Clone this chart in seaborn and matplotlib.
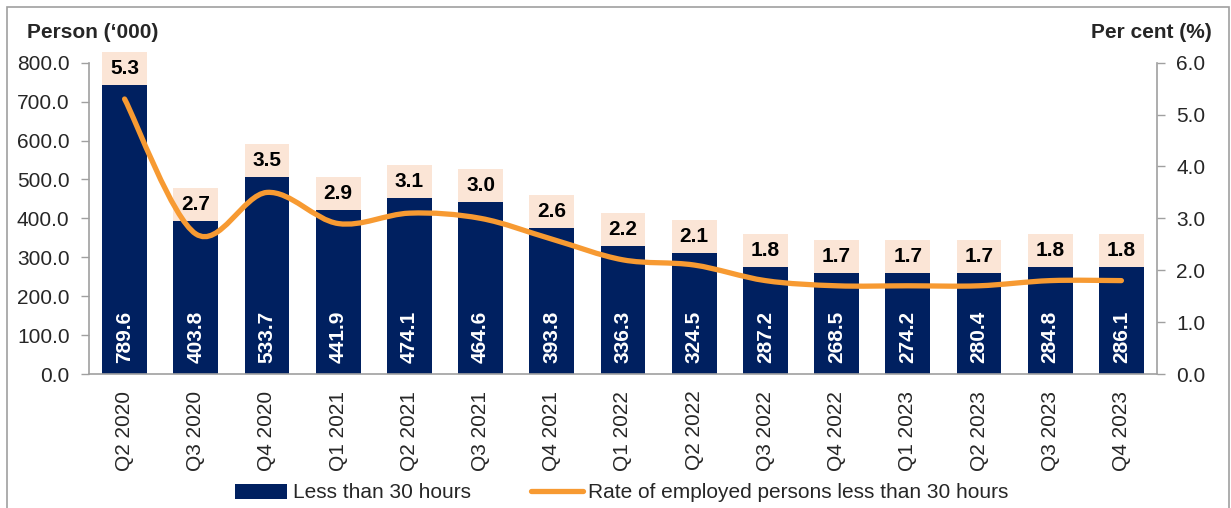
import numpy as np
import pandas as pd
import matplotlib
matplotlib.use("Agg")
import matplotlib.pyplot as plt
import seaborn as sns
from matplotlib.path import Path
from matplotlib.patches import PathPatch, Patch, Rectangle
from matplotlib.lines import Line2D

# ---------------- data ----------------
quarters = ['Q2 2020', 'Q3 2020', 'Q4 2020', 'Q1 2021', 'Q2 2021', 'Q3 2021', 'Q4 2021',
            'Q1 2022', 'Q2 2022', 'Q3 2022', 'Q4 2022', 'Q1 2023', 'Q2 2023', 'Q3 2023', 'Q4 2023']
persons_labels = [789.6, 403.8, 533.7, 441.9, 474.1, 464.6, 393.8, 336.3, 324.5, 287.2,
                  268.5, 274.2, 280.4, 284.8, 286.1]
bar_heights = [743, 393, 506, 421, 452, 442, 375, 329, 311, 275, 260, 260, 260, 275, 275]
rate = [5.3, 2.7, 3.5, 2.9, 3.1, 3.0, 2.6, 2.2, 2.1, 1.8, 1.7, 1.7, 1.7, 1.8, 1.8]
label_box = 84  # height of the label box stacked on each bar

NAVY = '#002060'
PEACH = '#FBE5D6'
ORANGE = '#F79A32'
GRAY = '#A0A0A0'

sns.set_style('white')
plt.rcParams['font.family'] = ['Liberation Sans', 'DejaVu Sans']

W, H = 1231, 508
fig = plt.figure(figsize=(W / 100, H / 100), dpi=100)
ax = fig.add_axes([89 / W, 1 - 374 / H, (1157 - 89) / W, (374 - 62.7) / H])

df = pd.DataFrame({'quarter': quarters, 'height': bar_heights,
                   'total': [h + label_box for h in bar_heights]})

sns.barplot(data=df, x='quarter', y='total', order=quarters, color=PEACH,
            saturation=1, width=0.63, ax=ax, linewidth=0)
sns.barplot(data=df, x='quarter', y='height', order=quarters, color=NAVY,
            saturation=1, width=0.63, ax=ax, linewidth=0)
for p in ax.patches:
    p.set_clip_on(False)

ax.set_xlim(-0.5, len(quarters) - 0.5)
ax.set_ylim(0, 800)
ax.set_yticks(np.arange(0, 801, 100))
ax.set_yticklabels([f'{v:.1f}' for v in np.arange(0, 801, 100)], fontsize=15)
ax.set_xticks(range(len(quarters)))
ax.set_xticklabels(quarters, rotation=90, fontsize=15)
ax.set_xticks(np.arange(-0.5, len(quarters), 1), minor=True)
ax.tick_params(axis='x', which='major', length=0, pad=12)
ax.tick_params(axis='x', which='minor', length=6, width=1, color=GRAY, direction='out')
ax.tick_params(axis='y', length=6, width=1, color=GRAY, direction='out', pad=8, left=True)
ax.set_xlabel('')
ax.set_ylabel('')
for s in ['top', 'right']:
    ax.spines[s].set_visible(False)
for s in ['left', 'bottom']:
    ax.spines[s].set_color(GRAY)
    ax.spines[s].set_linewidth(1.2)

# labels inside bars and in boxes
for i, (h, lab, r) in enumerate(zip(bar_heights, persons_labels, rate)):
    ax.annotate(f'{lab:.1f}', xy=(i, 0), xytext=(0, 8), textcoords='offset points',
                ha='center', va='bottom', rotation=90, color='white',
                fontsize=15, fontweight='bold')
    ax.text(i, h + label_box / 2, f'{r:.1f}', ha='center', va='center',
            fontsize=15, fontweight='bold', color='black', clip_on=False)

# secondary axis with smoothed line
ax2 = ax.twinx()
n = len(rate)
pts = list(zip(range(n), rate))
verts = [pts[0]]
codes = [Path.MOVETO]
for i in range(n - 1):
    p0 = pts[i - 1] if i > 0 else pts[i]
    p1 = pts[i]
    p2 = pts[i + 1]
    p3 = pts[i + 2] if i + 2 < n else pts[i + 1]
    c1 = (p1[0] + (p2[0] - p0[0]) / 6, p1[1] + (p2[1] - p0[1]) / 6)
    c2 = (p2[0] - (p3[0] - p1[0]) / 6, p2[1] - (p3[1] - p1[1]) / 6)
    verts += [c1, c2, p2]
    codes += [Path.CURVE4] * 3
ax2.add_patch(PathPatch(Path(verts, codes), facecolor='none', edgecolor=ORANGE,
                        lw=3.8, capstyle='round', joinstyle='round'))
ax2.set_ylim(0, 6)
ax2.set_xlim(-0.5, len(quarters) - 0.5)
ax2.set_yticks(np.arange(0, 6.01, 1))
ax2.set_yticklabels([f'{v:.1f}' for v in np.arange(0, 6.01, 1)], fontsize=15)
ax2.tick_params(axis='y', length=6, width=1, color=GRAY, direction='out', pad=8, right=True)
for s in ['top', 'left', 'bottom']:
    ax2.spines[s].set_visible(False)
ax2.spines['right'].set_color(GRAY)
ax2.spines['right'].set_linewidth(1.2)
ax2.grid(False)
ax.grid(False)

# axis titles
fig.text(27 / W, 1 - 33 / H, 'Person (\u2018000)', ha='left', va='center',
         fontsize=15, fontweight='bold')
fig.text(1212 / W, 1 - 33 / H, 'Per cent (%)', ha='right', va='center',
         fontsize=15, fontweight='bold')

# legend
handles = [Patch(facecolor=NAVY, edgecolor='none'),
           Line2D([0], [0], color=ORANGE, lw=3.8, solid_capstyle='round')]
fig.legend(handles, ['Less than 30 hours', 'Rate of employed persons less than 30 hours'],
           loc='center', bbox_to_anchor=(622 / W, 1 - 493 / H), ncol=2, frameon=False,
           fontsize=15, handlelength=2.5, handletextpad=0.25, columnspacing=2.9,
           borderpad=0)

# outer frame
fig.patches.append(Rectangle((6.5 / W, -0.05), (1229 - 6.5) / W, 1.05 - 7 / H,
                             transform=fig.transFigure, fill=False,
                             edgecolor=GRAY, linewidth=1.2))

fig.savefig('out.png', dpi=100)
